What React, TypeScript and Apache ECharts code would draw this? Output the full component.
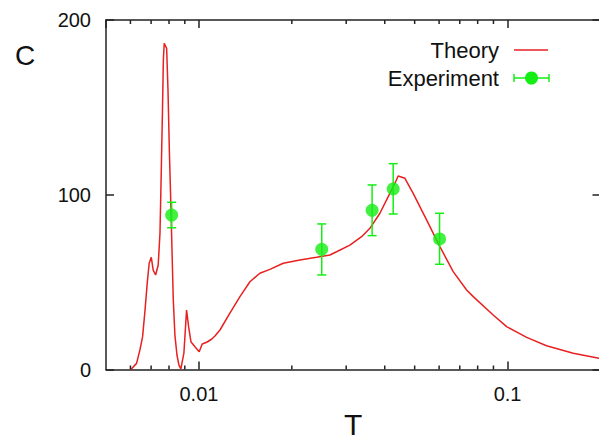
import React, { useEffect, useRef } from "react";
import * as echarts from "echarts";

// Theory curve (T, C)
const theoryT = [
  0.00602, 0.00628, 0.00644, 0.00657, 0.00669, 0.0068, 0.0069, 0.00701, 0.00711, 0.00724,
  0.00738, 0.00748, 0.00753, 0.00762, 0.00767, 0.00772, 0.00786, 0.00794, 0.00802, 0.00812,
  0.00818, 0.00826, 0.00836, 0.00849, 0.00861, 0.00874, 0.00894, 0.00912, 0.00926, 0.00942,
  0.00971, 0.01002, 0.01025, 0.01059, 0.01099, 0.01127, 0.0117, 0.0126, 0.01358, 0.01463,
  0.01576, 0.01698, 0.01876, 0.02124, 0.02406, 0.02657, 0.02793, 0.03084, 0.03365, 0.03581,
  0.03858, 0.04105, 0.04315, 0.04422, 0.04649, 0.04945, 0.05464, 0.06035, 0.06665, 0.07367,
  0.0774, 0.08983, 0.09926, 0.1153, 0.1337, 0.1632, 0.1976, 0.2,
];
const theoryC = [
  0, 3.5, 11.2, 18.8, 34.0, 49.3, 60.8, 64.2, 56.9, 54.1,
  59.8, 78.1, 102.7, 148.5, 177.1, 186.7, 183.8, 159.9, 125.6, 91.3,
  68.4, 39.8, 19.7, 8.3, 2.6, 0.3, 9.4, 34.0, 24.5, 15.9,
  13.0, 10.2, 14.6, 15.6, 17.3, 19.2, 22.6, 32.2, 41.7, 50.2,
  55.1, 57.3, 60.8, 62.7, 64.2, 65.5, 67.4, 71.2, 76.0, 80.8,
  89.4, 98.9, 106.6, 110.7, 109.4, 100.8, 85.6, 70.3, 56.0, 45.5,
  41.7, 31.2, 24.5, 18.4, 13.6, 9.3, 6.4, 6.3,
];

// Experiment points with error bars
const expT = [0.00816, 0.025, 0.0364, 0.0426, 0.0602];
const expC = [88.4, 68.8, 91.1, 103.3, 74.7];
const expLow = [81.1, 54.1, 76.6, 89.0, 60.2];
const expHigh = [95.7, 83.3, 105.6, 117.8, 89.4];

// Axis ticks
const xMajorTicks = [0.01, 0.1];
const xMinorTicks = [0.006, 0.007, 0.008, 0.009, 0.02, 0.03, 0.04, 0.05, 0.06, 0.07, 0.08, 0.09];
const xMin = 0.005;
const xMax = 0.2;
const yMin = 0;
const yMax = 200;
const yInterval = 100;

const FONT = "'Liberation Sans', Arial, Helvetica, sans-serif";
const RED = "#e82020";
const GREEN = "#14ee14";
const AXIS = "#222";

const majorLabel = (v: number) => {
  const m = xMajorTicks.find((t) => Math.abs(v - t) / t < 1e-6);
  return m === undefined ? "" : String(m);
};

export default function App() {
  const ref = useRef<HTMLDivElement>(null);

  useEffect(() => {
    if (!ref.current) return;
    const chart = echarts.init(ref.current, undefined, { renderer: "svg" });

    const xAxisBase = (position: string, labels: boolean) => ({
      type: "log",
      logBase: 10,
      min: xMin,
      max: xMax,
      position,
      gridIndex: 0,
      splitLine: { show: false },
      minorTick: { show: false },
      axisLine: { show: true, onZero: false, lineStyle: { color: AXIS, width: 1.5 } },
      axisTick: { show: true, inside: true, length: 8, lineStyle: { color: AXIS, width: 1.5 } },
      axisLabel: {
        show: labels,
        margin: 14,
        fontSize: 20,
        fontFamily: FONT,
        color: "#111",
        showMinLabel: false,
        showMaxLabel: false,
        formatter: majorLabel,
      },
    });

    const yAxisBase = (position: string, labels: boolean) => ({
      type: "value",
      min: yMin,
      max: yMax,
      interval: yInterval,
      position,
      splitLine: { show: false },
      axisLine: { show: true, onZero: false, lineStyle: { color: AXIS, width: 1.5 } },
      axisTick: { show: true, inside: true, length: 8, lineStyle: { color: AXIS, width: 1.5 } },
      axisLabel: { show: labels, margin: 15, fontSize: 20, fontFamily: FONT, color: "#111" },
    });

    const xb0: any = xAxisBase("bottom", true);
    xb0.name = "T";
    xb0.nameLocation = "middle";
    xb0.nameGap = 40;
    xb0.nameTextStyle = { fontSize: 30, fontFamily: FONT, color: "#111" };

    const option: any = {
      animation: false,
      backgroundColor: "#fff",
      grid: { left: 106, top: 20, width: 494.5, height: 349.5, containLabel: false, outerBoundsMode: "none" },
      xAxis: [xb0, xAxisBase("top", false)],
      yAxis: [yAxisBase("left", true), yAxisBase("right", false)],
      graphic: [
        { type: "text", x: 25, y: 55.5, style: { text: "C", fontSize: 28, fontFamily: FONT, fill: "#111", align: "center", verticalAlign: "middle", textAlign: "center", textVerticalAlign: "middle" } },
        { type: "text", x: 499, y: 50, style: { text: "Theory", fontSize: 22, fontFamily: FONT, fill: "#111", align: "right", verticalAlign: "middle", textAlign: "right", textVerticalAlign: "middle" } },
        { type: "line", shape: { x1: 514, y1: 50, x2: 548, y2: 50 }, style: { stroke: RED, lineWidth: 1.5 } },
        { type: "text", x: 499, y: 78, style: { text: "Experiment", fontSize: 22, fontFamily: FONT, fill: "#111", align: "right", verticalAlign: "middle", textAlign: "right", textVerticalAlign: "middle" } },
        { type: "line", shape: { x1: 514, y1: 78, x2: 549, y2: 78 }, style: { stroke: GREEN, lineWidth: 1.5 } },
        { type: "line", shape: { x1: 514, y1: 74, x2: 514, y2: 82 }, style: { stroke: GREEN, lineWidth: 1.5 } },
        { type: "line", shape: { x1: 549, y1: 74, x2: 549, y2: 82 }, style: { stroke: GREEN, lineWidth: 1.5 } },
        { type: "circle", shape: { cx: 531.5, cy: 78, r: 6.5 }, style: { fill: GREEN } },
      ],
      series: [
        {
          name: "minor ticks",
          type: "custom",
          xAxisIndex: 0,
          yAxisIndex: 0,
          silent: true,
          clip: false,
          data: xMinorTicks.map((t) => [t, yMin, yMax]),
          encode: { x: 0, y: [1, 2] },
          z: 5,
          renderItem: (params: any, api: any) => {
            const x = api.value(0);
            const b = api.coord([x, api.value(1)]);
            const t = api.coord([x, api.value(2)]);
            const st = { stroke: AXIS, lineWidth: 1.5 };
            return {
              type: "group",
              children: [
                { type: "line", shape: { x1: b[0], y1: b[1], x2: b[0], y2: b[1] - 4 }, style: st },
                { type: "line", shape: { x1: t[0], y1: t[1], x2: t[0], y2: t[1] + 4 }, style: st },
              ],
            };
          },
        },
        {
          name: "Theory",
          type: "line",
          xAxisIndex: 0,
          yAxisIndex: 0,
          data: theoryT.map((t, i) => [t, theoryC[i]]),
          showSymbol: false,
          symbol: "none",
          lineStyle: { color: RED, width: 1.5 },
          itemStyle: { color: RED },
          z: 2,
        },
        {
          name: "Experiment error",
          type: "custom",
          xAxisIndex: 0,
          yAxisIndex: 0,
          data: expT.map((t, i) => [t, expLow[i], expHigh[i]]),
          encode: { x: 0, y: [1, 2] },
          z: 3,
          renderItem: (params: any, api: any) => {
            const x = api.value(0);
            const lo = api.coord([x, api.value(1)]);
            const hi = api.coord([x, api.value(2)]);
            const w = 4.5;
            const st = { stroke: GREEN, lineWidth: 1.5 };
            return {
              type: "group",
              children: [
                { type: "line", shape: { x1: lo[0], y1: lo[1], x2: hi[0], y2: hi[1] }, style: st },
                { type: "line", shape: { x1: lo[0] - w, y1: lo[1], x2: lo[0] + w, y2: lo[1] }, style: st },
                { type: "line", shape: { x1: hi[0] - w, y1: hi[1], x2: hi[0] + w, y2: hi[1] }, style: st },
              ],
            };
          },
        },
        {
          name: "Experiment",
          type: "scatter",
          xAxisIndex: 0,
          yAxisIndex: 0,
          data: expT.map((t, i) => [t, expC[i]]),
          symbol: "circle",
          symbolSize: 13,
          itemStyle: { color: GREEN },
          z: 4,
        },
      ],
    };

    chart.setOption(option);
    return () => chart.dispose();
  }, []);

  return (
    <div
      ref={ref}
      style={{ position: "absolute", left: 0, top: 0, width: 599, height: 438, background: "#fff" }}
    />
  );
}
